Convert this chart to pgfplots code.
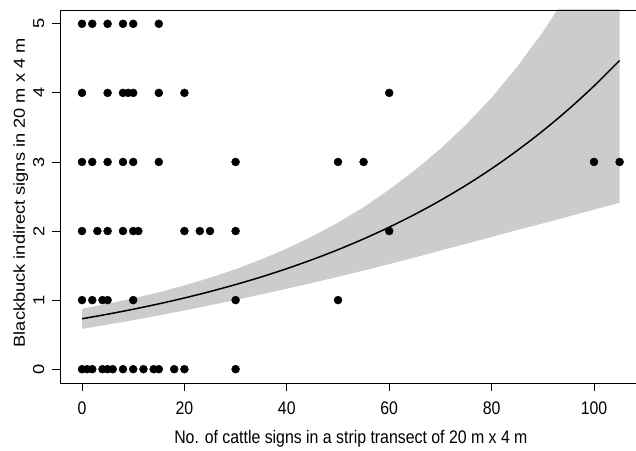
\documentclass[border=0pt]{standalone}
\usepackage{pgfplots}
\pgfplotsset{compat=1.18}
\usepackage{fontspec}
\setmainfont{Liberation Sans}
\begin{document}
\begin{tikzpicture}
\begin{axis}[
  name=ax,
  scale only axis, width=576bp, height=373bp,
  xmin=-4.3, xmax=108.2, ymin=-0.2, ymax=5.2,
  axis line style={draw=none},
  xtick={0,20,...,100}, ytick={0,...,5},
  tick align=outside, xtick pos=bottom, ytick pos=left,
  major tick length=8bp,
  tick style={black, line width=0.8bp},
  /pgf/number format/assume math mode=true,
  ticklabel style={font=\fontsize{18.3}{21}\selectfont},
  xticklabel style={xscale=0.87, anchor=north, inner xsep=0pt, inner ysep=10.5bp},
  yticklabel style={rotate=90, yscale=0.87, anchor=south, inner xsep=0pt, inner ysep=8.7bp},
  label style={font=\fontsize{18.3}{21}\selectfont},
  xlabel={No. of cattle signs in a strip transect of 20 m x 4 m},
  ylabel={Blackbuck indirect signs in 20 m x 4 m},
  xlabel style={at={(axis description cs:0.505,-0.162)}, anchor=base, xscale=0.87, inner sep=0pt},
  ylabel style={at={(axis description cs:-0.0608,0.51)}, anchor=base, yscale=0.87, inner sep=0pt},
]
% confidence band (upper, then lower reversed)
\addplot[fill=black!20, draw=none] coordinates {
(0,0.876) (5,0.947) (10,1.025) (15,1.113) (20,1.212) (25,1.323) (30,1.448)
(35,1.589) (40,1.747) (45,1.924) (50,2.122) (55,2.344) (60,2.600) (65,2.880)
(70,3.190) (75,3.540) (80,3.930) (85,4.380) (90,4.880) (95,5.450) (100,6.050) (105,6.700)
(105,2.410) (100,2.310) (95,2.210) (90,2.110) (85,2.015) (80,1.915) (75,1.815)
(70,1.717) (65,1.618) (60,1.521) (55,1.428) (50,1.337) (45,1.250) (40,1.165)
(35,1.082) (30,1.002) (25,0.925) (20,0.850) (15,0.778) (10,0.710) (5,0.645) (0,0.584)
} -- cycle;
% fitted curve
\addplot[black, line width=1.5bp, smooth] coordinates {
(0,0.730) (5,0.796) (10,0.868) (15,0.946) (20,1.031) (25,1.124) (30,1.225)
(35,1.335) (40,1.456) (45,1.587) (50,1.730) (55,1.886) (60,2.056) (65,2.241)
(70,2.443) (75,2.663) (80,2.903) (85,3.165) (90,3.450) (95,3.761) (100,4.100) (105,4.469)
};
% observations
\addplot[only marks, mark=*, mark size=4bp, black] coordinates {
(0,0) (1,0) (2,0) (4,0) (5,0) (6,0) (8,0) (10,0) (12,0) (14,0) (15,0) (18,0) (20,0) (30,0)
(0,1) (2,1) (4,1) (5,1) (10,1) (30,1) (50,1)
(0,2) (3,2) (5,2) (8,2) (10,2) (11,2) (20,2) (23,2) (25,2) (30,2) (60,2)
(0,3) (2,3) (5,3) (8,3) (10,3) (15,3) (30,3) (50,3) (55,3) (100,3) (105,3)
(0,4) (5,4) (8,4) (9,4) (10,4) (15,4) (20,4) (60,4)
(0,5) (2,5) (5,5) (8,5) (10,5) (15,5)
};
\end{axis}
\draw[black, line width=0.8bp] (ax.north east) -- (ax.north west) -- (ax.south west) -- (ax.south east);
\pgfresetboundingbox
\path[use as bounding box] ([xshift=-60bp,yshift=-68bp]ax.south west) rectangle ([yshift=10bp]ax.north east);
\end{tikzpicture}
\end{document}
